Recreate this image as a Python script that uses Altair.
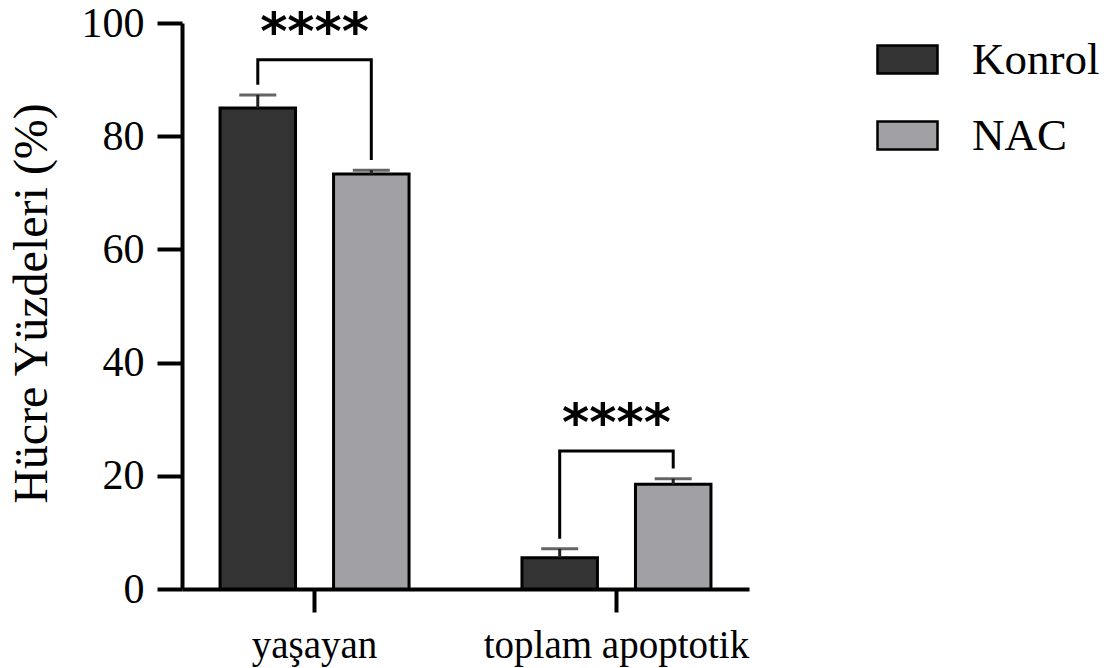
import altair as alt
import pandas as pd

# ---- values ----
groups = ["yaşayan", "toplam apoptotik"]
series = ["Konrol", "NAC"]
konrol_mean = [85.0, 5.5]
konrol_sd = [2.3, 1.6]
nac_mean = [73.3, 18.5]
nac_sd = [0.7, 1.0]
bracket_top = [93.5, 24.4]
significance = ["****", "****"]
y_ticks = [0, 20, 40, 60, 80, 100]
bar_colors = ["#333333", "#A1A1A5"]

# ---- tables ----
bars = []
for i, g in enumerate(groups):
    bars.append(dict(group=g, series="Konrol", mean=konrol_mean[i], upper=konrol_mean[i] + konrol_sd[i]))
    bars.append(dict(group=g, series="NAC", mean=nac_mean[i], upper=nac_mean[i] + nac_sd[i]))
bars = pd.DataFrame(bars)

leg_gap = 1.8  # space between error cap and bracket leg, in % units
brackets = []
for i, g in enumerate(groups):
    k_end = konrol_mean[i] + konrol_sd[i] + leg_gap
    n_end = nac_mean[i] + nac_sd[i] + leg_gap
    brackets += [
        dict(group=g, series="Konrol", y=k_end, step=0),
        dict(group=g, series="Konrol", y=bracket_top[i], step=1),
        dict(group=g, series="NAC", y=bracket_top[i], step=2),
        dict(group=g, series="NAC", y=n_end, step=3),
    ]
brackets = pd.DataFrame(brackets)

stars = pd.DataFrame({"group": groups, "top": bracket_top, "label": significance})

# ---- shared encodings ----
x_axis = alt.Axis(
    title=None, labelAngle=0, labelFont="Liberation Serif", labelFontSize=39,
    labelColor="black", labelPadding=14, labelLimit=0, tickSize=23, tickWidth=4,
    tickColor="black", domainColor="black", domainWidth=4,
)
y_axis = alt.Axis(
    title="Hücre Yüzdeleri (%)", values=y_ticks, grid=False,
    labelFont="Liberation Serif", labelFontSize=42, labelColor="black",
    labelPadding=13, tickSize=25, tickWidth=4, tickColor="black",
    domainColor="black", domainWidth=4,
    titleFont="Liberation Serif", titleFontSize=48, titleFontWeight="normal",
    titleColor="black", titlePadding=25, titleY=280,
)

x_enc = alt.X("group:N", sort=groups, axis=x_axis,
              scale=alt.Scale(paddingInner=0.374, paddingOuter=0.126))
xo_enc = alt.XOffset("series:N", sort=series,
                     scale=alt.Scale(paddingInner=0.335, paddingOuter=0))
y_scale = alt.Scale(domain=[0, 100], nice=False)


def y_enc(field):
    return alt.Y(f"{field}:Q", scale=y_scale, axis=y_axis)


bar_layer = alt.Chart(bars).mark_bar(stroke="black", strokeWidth=3).encode(
    x=x_enc,
    xOffset=xo_enc,
    y=y_enc("mean"),
    color=alt.Color(
        "series:N",
        scale=alt.Scale(domain=series, range=bar_colors),
        legend=alt.Legend(
            title=None, orient="none", legendX=694, legendY=5, padding=0,
            symbolType="M-1,-0.47H1V0.47H-1Z", symbolSize=3600,
            symbolStrokeColor="black", symbolStrokeWidth=2.5, symbolOpacity=1,
            labelFont="Liberation Serif", labelFontSize=45, labelColor="black",
            labelOffset=33, rowPadding=21,
        ),
    ),
)

err_layer = alt.Chart(bars).mark_rule(color="#222222", strokeWidth=3).encode(
    x=x_enc, xOffset=xo_enc, y=y_enc("mean"), y2="upper:Q"
)

cap_layer = alt.Chart(bars).mark_tick(color="#222222", thickness=3, size=37).encode(
    x=x_enc, xOffset=xo_enc, y=y_enc("upper")
)

bracket_layer = alt.Chart(brackets).mark_line(color="black", strokeWidth=3).encode(
    x=x_enc, xOffset=xo_enc, y=y_enc("y"),
    detail="group:N", order="step:Q",
)

star_layer = alt.Chart(stars).mark_text(
    font="DejaVu Sans", fontWeight="bold", fontSize=52, dy=-27,
    baseline="middle", color="black",
).encode(x=x_enc, y=y_enc("top"), text="label:N")

chart = (
    alt.layer(bar_layer, err_layer, cap_layer, bracket_layer, star_layer)
    .properties(
        width=567, height=566,
        autosize=alt.AutoSizeParams(type="none"),
        padding={"left": 182, "top": 23, "right": 371, "bottom": 79},
        background="white",
    )
    .configure_view(stroke=None)
)

chart.save("out.html", embed_options={"renderer": "svg", "actions": False})
